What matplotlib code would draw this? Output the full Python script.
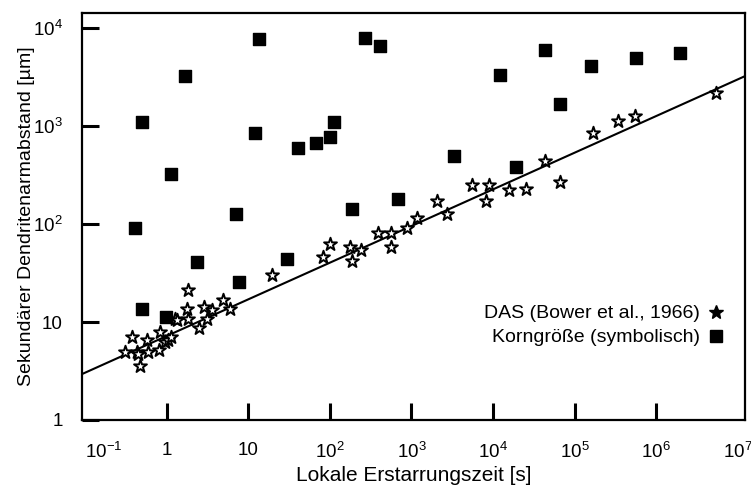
import numpy as np
import matplotlib
matplotlib.use("Agg")
import matplotlib.pyplot as plt
from matplotlib.lines import Line2D

plt.rcParams['font.family'] = ['Liberation Sans', 'DejaVu Sans']
plt.rcParams['mathtext.fontset'] = 'custom'
plt.rcParams['mathtext.rm'] = 'Liberation Sans'
plt.rcParams['mathtext.it'] = 'Liberation Sans:italic'
plt.rcParams['mathtext.bf'] = 'Liberation Sans:bold'

# --- DAS Messwerte (Bower et al., 1966) ---
das_t = [0.305, 0.372, 0.428, 0.44, 0.466, 0.568, 0.585, 0.821, 0.797, 0.945,
         1.03, 1.12, 1.25, 1.33, 1.81, 1.76, 1.81, 2.47, 2.84, 3.10,
         3.57, 4.86, 5.93, 19.4, 82, 100, 176, 186, 240, 388,
         560, 560, 881, 1167, 2055, 2727, 5520, 8930, 8200, 15700,
         25400, 43500, 66400, 169000, 342000, 552000, 5.45e6]
das_um = [4.94, 7.03, 4.94, 4.71, 3.56, 6.55, 4.94, 7.91, 5.18, 6.25,
          6.55, 7.03, 10.7, 10.5, 21.2, 13.6, 10.7, 8.69, 14.2, 10.7,
          13.3, 16.8, 13.6, 30.2, 46.0, 62.5, 58.2, 41.9, 54.3, 80.9,
          80.9, 58.2, 91.0, 115, 172, 126, 250, 250, 172, 222,
          228, 439, 268, 849, 1125, 1265, 2170]

# --- Korngröße (symbolisch) ---
korn_t = [0.405, 0.494, 1.12, 1.66, 12.0, 13.5, 7.03, 40.5, 67.3, 100,
          112, 269, 411, 186, 683, 3320, 12200, 19100, 43500, 66400,
          159000, 569000, 1.97e6, 2.33, 0.494, 0.97, 7.65, 29.7]
korn_um = [91, 1099, 324, 3236, 849, 7720, 126, 597, 671, 773,
           1099, 7910, 6550, 142, 180, 494, 3313, 382, 5970, 1676,
           4096, 4940, 5560, 41, 13.6, 11.2, 25.6, 44]

# Ausgleichsgerade (Endpunkte)
fit_t = [0.091, 1.23e7]
fit_um = [2.94, 3236]

x_ticks = [1e-1, 1, 10, 1e2, 1e3, 1e4, 1e5, 1e6, 1e7]
x_labels = [r'$\mathregular{10^{-1}}$', '1', '10', r'$\mathregular{10^{2}}$',
            r'$\mathregular{10^{3}}$', r'$\mathregular{10^{4}}$', r'$\mathregular{10^{5}}$',
            r'$\mathregular{10^{6}}$', r'$\mathregular{10^{7}}$']
y_ticks = [1, 10, 1e2, 1e3, 1e4]
y_labels = ['1', '10', r'$\mathregular{10^{2}}$', r'$\mathregular{10^{3}}$', r'$\mathregular{10^{4}}$']

fig = plt.figure(figsize=(7.51, 4.87), dpi=100)
ax = fig.add_axes([0.1092, 0.1376, 0.8828, 0.8354])

ax.plot(fit_t, fit_um, color='black', lw=1.5, zorder=2)
ax.scatter(korn_t, korn_um, marker='s', s=75, color='black', zorder=3)
ax.scatter(das_t, das_um, marker='*', s=95, facecolor='white', edgecolor='black',
           linewidths=1.4, zorder=4)

ax.set_xscale('log')
ax.set_yscale('log')
ax.set_xlim(10**-1.04, 10**7.09)
ax.set_ylim(1, 10**4.153)

ax.set_xticks(x_ticks)
ax.set_xticklabels(x_labels)
ax.set_yticks(y_ticks)
ax.set_yticklabels(y_labels)
ax.minorticks_off()
ax.tick_params(axis='both', direction='in', length=12, width=2.2, labelsize=13.5)
ax.tick_params(axis='x', pad=16)
ax.tick_params(axis='y', pad=14)
for s in ax.spines.values():
    s.set_linewidth(1.6)

# keine Striche an den Randwerten
xt = ax.xaxis.get_major_ticks()
xt[0].tick1line.set_visible(False)
xt[-1].tick1line.set_visible(False)
ax.get_xticklabels()[0].set_horizontalalignment('left')

ax.set_xlabel("Lokale Erstarrungszeit [s]", fontsize=15, labelpad=3)
ax.set_ylabel("Sekundärer Dendritenarmabstand [µm]", fontsize=14, labelpad=-2)

handles = [Line2D([], [], ls='none', marker='*', ms=10, color='black'),
           Line2D([], [], ls='none', marker='s', ms=8, color='black')]
ax.legend(handles, ["DAS (Bower et al., 1966)", "Korngröße (symbolisch)"],
          loc='center right', bbox_to_anchor=(0.985, 0.232), frameon=False,
          markerfirst=False, fontsize=14, handlelength=1.0, handletextpad=0.3,
          labelspacing=0.32, borderpad=0)

plt.savefig("out.png", dpi=100)
